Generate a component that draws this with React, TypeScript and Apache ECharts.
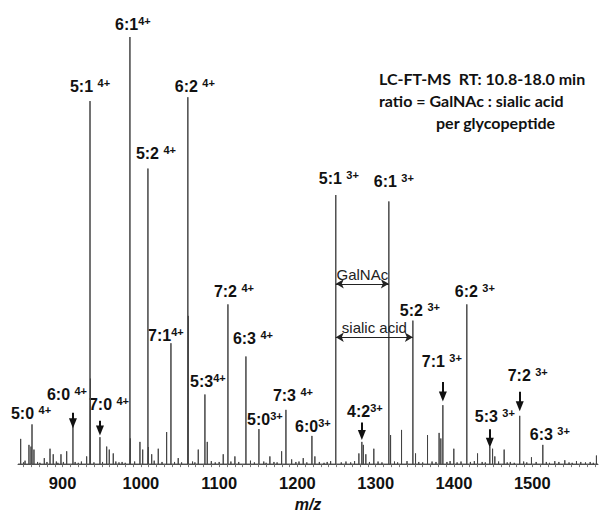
import React, { useEffect, useRef } from "react";
import * as echarts from "echarts";

// ---------------- data ----------------
const tickLabels = [900, 1000, 1100, 1200, 1300, 1400, 1500];

// labelled glycopeptide peaks (ratio GalNAc:sialic acid, charge)
const peakRatio = ["5:0", "6:0", "5:1", "7:0", "6:1", "5:2", "7:1", "6:2", "5:3", "7:2", "6:3", "5:0", "7:3", "6:0", "5:1", "4:2", "6:1", "5:2", "7:1", "6:2", "5:3", "7:2", "6:3"];
const peakCharge = ["4+", "4+", "4+", "4+", "4+", "4+", "4+", "4+", "4+", "4+", "4+", "3+", "4+", "3+", "3+", "3+", "3+", "3+", "3+", "3+", "3+", "3+", "3+"];
const peakMz = [860.9, 913.2, 935.0, 947.7, 986.0, 1009.0, 1038.4, 1060.0, 1081.8, 1111.2, 1134.2, 1150.8, 1185.3, 1218.5, 1249.0, 1282.3, 1316.8, 1347.5, 1385.8, 1416.4, 1445.8, 1484.0, 1513.5];
const peakIntensity = [9.3, 9.1, 85.0, 6.3, 100, 69.2, 28.3, 85.9, 16.3, 37.4, 25.2, 8.2, 12.7, 6.6, 63.0, 5.2, 61.5, 33.6, 13.8, 37.4, 4.1, 11.3, 4.5];

// other (unlabelled) peaks
const minorMz = [846.4, 857.0, 859.6, 863.4, 876.6, 883.9, 888.0, 897.9, 905.2, 930.7, 935.6, 956.3, 959.6, 964.7, 986.6, 998.8, 1002.3, 1009.6, 1013.8, 1022.2, 1032.9, 1047.7, 1060.6, 1073.3, 1084.8, 1105.2, 1120.1, 1164.8, 1179.8, 1192.6, 1207.4, 1222.3, 1242.4, 1278.5, 1284.2, 1287.4, 1297.6, 1319.0, 1333.0, 1350.9, 1366.2, 1381.0, 1383.2, 1399.8, 1430.1, 1449.3, 1452.2, 1464.1, 1499.0, 1528.8, 1541.6, 1556.5, 1582.0];
const minorIntensity = [5.9, 4.5, 4.1, 3.4, 1.4, 3.6, 2.3, 2.3, 3.0, 1.8, 20.0, 4.1, 3.4, 2.5, 6.0, 5.2, 3.4, 4.0, 2.3, 3.6, 7.5, 1.4, 34.7, 3.4, 5.2, 2.3, 1.8, 1.8, 3.0, 1.1, 1.4, 1.8, 0.7, 2.5, 4.5, 2.3, 3.6, 6.8, 8.0, 2.5, 6.8, 7.3, 6.0, 3.6, 2.5, 3.6, 1.8, 3.4, 1.6, 0.7, 0.9, 0.7, 2.0];

// baseline noise
const noiseMz = [850, 852, 868, 871, 880, 892, 894, 901, 916, 920, 924, 940, 951, 968, 972, 976, 980, 992, 1017, 1027, 1043, 1052, 1066, 1069, 1090, 1095, 1100, 1115, 1125, 1140, 1145, 1157, 1160, 1170, 1174, 1198, 1202, 1212, 1228, 1234, 1238, 1256, 1262, 1268, 1273, 1292, 1303, 1308, 1324, 1328, 1340, 1355, 1360, 1372, 1377, 1391, 1395, 1404, 1409, 1421, 1426, 1436, 1440, 1457, 1468, 1472, 1477, 1489, 1493, 1505, 1518, 1522, 1534, 1547, 1551, 1562, 1568, 1574, 1578];
const noiseIntensity = [0.4, 0.8, 0.5, 0.3, 0.5, 0.6, 0.3, 0.5, 0.5, 0.3, 0.6, 0.4, 0.5, 0.6, 0.4, 0.5, 0.3, 0.6, 0.8, 0.5, 0.5, 0.4, 0.6, 0.4, 0.7, 0.4, 0.5, 0.6, 0.5, 0.8, 0.4, 0.6, 0.3, 0.5, 0.4, 0.5, 0.6, 0.4, 0.5, 0.3, 0.5, 0.4, 0.6, 0.4, 0.7, 0.5, 0.6, 0.4, 0.6, 0.4, 0.7, 0.5, 0.4, 0.6, 0.5, 0.5, 0.7, 0.4, 0.6, 0.5, 0.7, 0.5, 0.4, 0.6, 0.4, 0.5, 0.3, 0.6, 0.4, 0.5, 0.5, 0.3, 0.5, 0.4, 0.3, 0.5, 0.4, 0.5, 0.3];

// mass differences marked between peaks: [from peak index, to peak index, label]
const diffFrom = [14, 14];
const diffTo = [16, 17];
const diffText = ["GalNAc", "sialic acid"];

const headerLines = ["LC-FT-MS  RT: 10.8-18.0 min", "ratio = GalNAc : sialic acid", "per glycopeptide"];

// ---------------- layout (pixels) ----------------
const GRID_TOP = 37;
const GRID_BOTTOM = 39;
const CHART_H = 517;
const Y_MAX = 100;
const PX_PER_UNIT = (CHART_H - GRID_TOP - GRID_BOTTOM) / Y_MAX;

const labelOffset: number[][] = [
  [-1, -2], [-6, -22], [0, -6], [9, -24], [3, -4], [8, -6], [-5, 1], [7, -2], [3, -4], [6, -4], [7, -9],
  [6, -1], [7, -5], [1, 0], [3, -8], [3, -21], [5, -11], [7, -1], [-1, -35], [8, -4], [5, -21], [8, -31], [7, -1],
];
const labelSpace = [true, true, true, true, false, true, false, true, false, true, true, false, true, false, true, false, true, true, true, true, true, true, true];
// down arrows: [start px above peak top, tip px above peak top] or null
const arrowGap: (number[] | null)[] = [
  null, [13, 2], null, [17, 7], null, null, null, null, null, null, null,
  null, null, null, null, [20, 7], null, null, [24, 9], null, [18, 4], [25, 10], null,
];
const diffY = [42.2, 29.7]; // arrow heights in intensity units for the difference markers

const LABEL_FONT = "Liberation Sans";
const HEADER_FONT = "Lato";

export default function App() {
  const ref = useRef<HTMLDivElement>(null);
  useEffect(() => {
    document.body.style.margin = "0";
    if (!ref.current) return;
    const chart = echarts.init(ref.current, null, { renderer: "svg" });

    const all: [number, number][] = [];
    peakMz.forEach((m, i) => all.push([m, peakIntensity[i]]));
    minorMz.forEach((m, i) => all.push([m, minorIntensity[i]]));
    noiseMz.forEach((m, i) => all.push([m, noiseIntensity[i]]));
    all.sort((a, b) => a[0] - b[0]);
    const spectrum: [number, number][] = [[843, 0]];
    all.forEach(([m, v]) => {
      spectrum.push([m, 0], [m, v], [m, 0]);
    });
    spectrum.push([1584, 0]);

    const labelData = peakMz.map((m, i) => ({
      value: [m, peakIntensity[i]],
      label: {
        offset: labelOffset[i],
        formatter: `{a|${peakRatio[i]}${labelSpace[i] ? " " : ""}}{s|${peakCharge[i]}}`,
      },
    }));

    const arrowLines: any[] = [];
    peakMz.forEach((m, i) => {
      const g = arrowGap[i];
      if (!g) return;
      arrowLines.push([
        { coord: [m, peakIntensity[i] + g[0] / PX_PER_UNIT], symbol: "none" },
        { coord: [m, peakIntensity[i] + g[1] / PX_PER_UNIT], symbol: "triangle" },
      ]);
    });
    const diffLines: any[] = diffFrom.map((f, k) => [
      {
        coord: [peakMz[f], diffY[k]],
        symbol: "arrow",
        label: { show: true, formatter: diffText[k] },
      },
      { coord: [peakMz[diffTo[k]], diffY[k]], symbol: "arrow" },
    ]);

    const option: any = {
      animation: false,
      grid: { left: 18, right: 3, top: GRID_TOP, bottom: GRID_BOTTOM },
      xAxis: {
        type: "value",
        min: 843,
        max: 1584,
        name: "m/z",
        nameLocation: "middle",
        nameGap: 31,
        nameTextStyle: { fontStyle: "italic", fontWeight: "bold", fontSize: 16, color: "#111", fontFamily: LABEL_FONT },
        axisLine: { lineStyle: { color: "#555", width: 1 } },
        axisTick: {
          show: true,
          length: 3,
          customValues: Array.from({ length: 74 }, (_, i) => 850 + i * 10),
          lineStyle: { color: "#777" },
        },
        axisLabel: {
          customValues: tickLabels,
          formatter: (v: number) => String(v),
          fontSize: 16.5,
          fontWeight: "bold",
          color: "#111",
          margin: 10,
          fontFamily: LABEL_FONT,
        },
        splitLine: { show: false },
      },
      yAxis: { type: "value", min: 0, max: Y_MAX, show: false },
      graphic: headerLines.map((t, i) => ({
        type: "text",
        left: i === 2 ? 436 : 379,
        top: 70 + i * 22,
        style: { text: t, fontSize: 16, fontWeight: "bold", fontFamily: HEADER_FONT, fill: "#111" },
      })),
      series: [
        {
          type: "line",
          data: spectrum,
          symbol: "none",
          lineStyle: { color: "#444", width: 1 },
          silent: true,
        },
        {
          type: "scatter",
          data: labelData,
          symbolSize: 0,
          silent: true,
          itemStyle: { opacity: 1, color: "#111" },
          label: {
            show: true,
            position: "top",
            distance: 0,
            rich: {
              a: { fontSize: 16, fontWeight: "bold", color: "#111", lineHeight: 18, fontFamily: LABEL_FONT },
              s: { fontSize: 11, fontWeight: "bold", color: "#111", lineHeight: 10, verticalAlign: "top", fontFamily: LABEL_FONT },
            },
          },
          markLine: {
            silent: true,
            symbolSize: [8, 10],
            lineStyle: { color: "#111", width: 2, type: "solid", opacity: 1 },
            itemStyle: { opacity: 1 },
            label: { show: false },
            data: arrowLines,
          },
        },
        {
          type: "scatter",
          data: [],
          silent: true,
          itemStyle: { opacity: 1, color: "#222" },
          markLine: {
            silent: true,
            symbolSize: [7, 8],
            lineStyle: { color: "#222", width: 1.2, type: "solid", opacity: 1 },
            label: {
              show: false,
              position: "middle",
              distance: 2,
              fontSize: 15,
              color: "#222",
              fontFamily: "Liberation Sans",
            },
            data: diffLines,
          },
        },
      ],
    };
    chart.setOption(option);
    return () => chart.dispose();
  }, []);
  return <div ref={ref} style={{ width: 601, height: 517 }} />;
}
